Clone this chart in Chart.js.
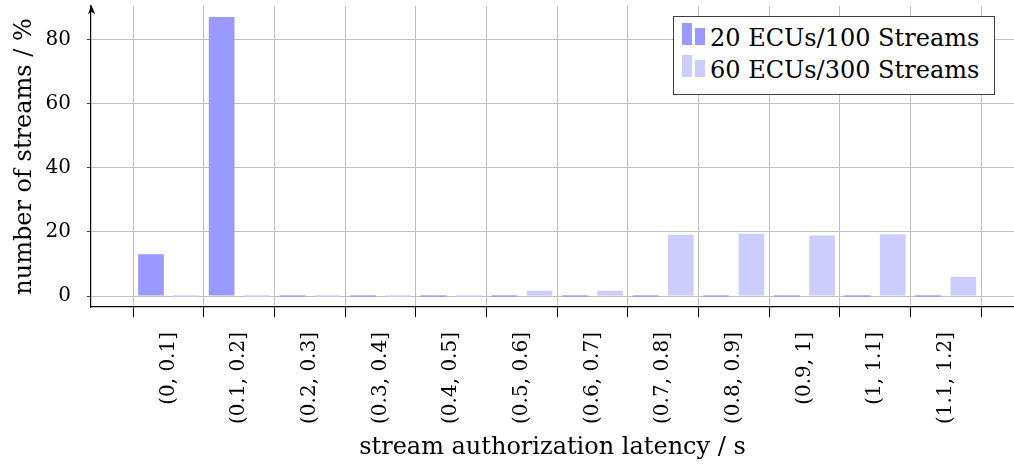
<!DOCTYPE html>
<html><head><meta charset="utf-8">
<script src="https://cdn.jsdelivr.net/npm/chart.js@4.4.1/dist/chart.umd.min.js"></script>
<style>
html,body{margin:0;padding:0;background:#fff;}
#wrap{position:relative;width:1014px;height:472px;}
#legend{position:absolute;left:673px;top:16px;width:322px;height:79px;box-sizing:border-box;border:1px solid #404040;background:#fff;padding-top:5px;font-family:'DejaVu Serif';font-size:24px;color:#000;}
.row{position:relative;height:32px;line-height:32px;white-space:nowrap;}
.bar{position:absolute;width:10px;}
.txt{position:absolute;left:36px;top:0;}
</style>
</head><body>
<div id="wrap"><canvas id="c" width="1014" height="472"></canvas><div id="legend"></div></div>
<script>
const categories = ['(0, 0.1]','(0.1, 0.2]','(0.2, 0.3]','(0.3, 0.4]','(0.4, 0.5]','(0.5, 0.6]','(0.6, 0.7]','(0.7, 0.8]','(0.8, 0.9]','(0.9, 1]','(1, 1.1]','(1.1, 1.2]'];
const seriesNames = ['20 ECUs/100 Streams','60 ECUs/300 Streams'];
const ecu20 = [13, 87, 0, 0, 0, 0, 0, 0, 0, 0, 0, 0];
const ecu60 = [0, 0, 0, 0, 0, 1.7, 1.7, 19.1, 19.4, 18.9, 19.3, 6.0];
const yTicks = [0, 20, 40, 60, 80];
const colors = ['#9999ff', '#ccccff'];

const FONT = 'DejaVu Serif';
const xTickPositions = [];
for (let i = -0.5; i <= categories.length - 0.5 + 1e-9; i += 0.5) xTickPositions.push(i);
const isCenter = v => Math.abs(v - Math.round(v)) < 1e-6;

const arrowPlugin = {
  id: 'yarrow',
  afterDraw(chart) {
    const {ctx, chartArea: a} = chart;
    ctx.save();
    ctx.fillStyle = '#000';
    ctx.beginPath();
    const x = a.left + 0.5, y = a.top - 1;
    ctx.moveTo(x, y);
    ctx.lineTo(x - 3.5, y + 9);
    ctx.lineTo(x, y + 7);
    ctx.lineTo(x + 3.5, y + 9);
    ctx.closePath();
    ctx.fill();
    ctx.restore();
  }
};

const toPoints = arr => arr.map((v, i) => ({x: i, y: v}));

new Chart(document.getElementById('c'), {
  type: 'bar',
  data: {
    datasets: [
      {label: seriesNames[0], data: toPoints(ecu20), backgroundColor: colors[0], borderWidth: 0, minBarLength: 1.5, categoryPercentage: 2, barPercentage: 0.727},
      {label: seriesNames[1], data: toPoints(ecu60), backgroundColor: colors[1], borderWidth: 0, minBarLength: 1.5, categoryPercentage: 2, barPercentage: 0.727}
    ]
  },
  options: {
    responsive: false,
    animation: false,
    layout: {padding: {top: 6, right: 0, bottom: 0, left: 0}},
    plugins: {legend: {display: false}, tooltip: {enabled: false}},
    scales: {
      x: {
        type: 'linear', min: -1.099, max: 11.967, offset: false,
        afterBuildTicks: s => { s.ticks = xTickPositions.map(v => ({value: v})); },
        afterFit: s => { s.height = 165; s.paddingLeft = 0; s.paddingRight = 0; },
        ticks: {
          autoSkip: false, minRotation: 90, maxRotation: 90, padding: 15,
          font: {family: FONT, size: 20}, color: '#000',
          callback: v => isCenter(v) ? categories[Math.round(v)] : ''
        },
        grid: {
          offset: false, lineWidth: 1, tickLength: 10,
          color: ctx => (ctx.tick && !isCenter(ctx.tick.value)) ? '#bfbfbf' : 'rgba(0,0,0,0)',
          tickColor: ctx => (ctx.tick && !isCenter(ctx.tick.value)) ? '#000' : 'rgba(0,0,0,0)'
        },
        border: {color: '#000', width: 1.2},
        title: {display: true, text: 'stream authorization latency / s', color: '#000', font: {family: FONT, size: 24}, padding: {top: 0, bottom: 10}}
      },
      y: {
        type: 'linear', min: -3.4, max: 90.4,
        afterBuildTicks: s => { s.ticks = yTicks.map(v => ({value: v})); },
        afterFit: s => { s.width = 91; s.paddingTop = 0; s.paddingBottom = 0; },
        ticks: {padding: 16, font: {family: FONT, size: 20}, color: '#000'},
        grid: {color: '#bfbfbf', lineWidth: 1, tickLength: 4, tickColor: '#404040'},
        border: {color: '#000', width: 1.2},
        title: {display: true, text: 'number of streams / %', color: '#000', font: {family: FONT, size: 24}, padding: {top: 10, bottom: 0}}
      }
    }
  },
  plugins: [arrowPlugin]
});

const legend = document.getElementById('legend');
const barShapes = [[1, 22], [6, 17]];
seriesNames.forEach((name, i) => {
  const row = document.createElement('div');
  row.className = 'row';
  barShapes.forEach((s, j) => {
    const b = document.createElement('div');
    b.className = 'bar';
    b.style.left = (8 + j * 13) + 'px';
    b.style.top = s[0] + 'px';
    b.style.height = s[1] + 'px';
    b.style.background = colors[i];
    row.appendChild(b);
  });
  const t = document.createElement('span');
  t.className = 'txt';
  t.textContent = name;
  row.appendChild(t);
  legend.appendChild(row);
});
</script>
</body></html>
